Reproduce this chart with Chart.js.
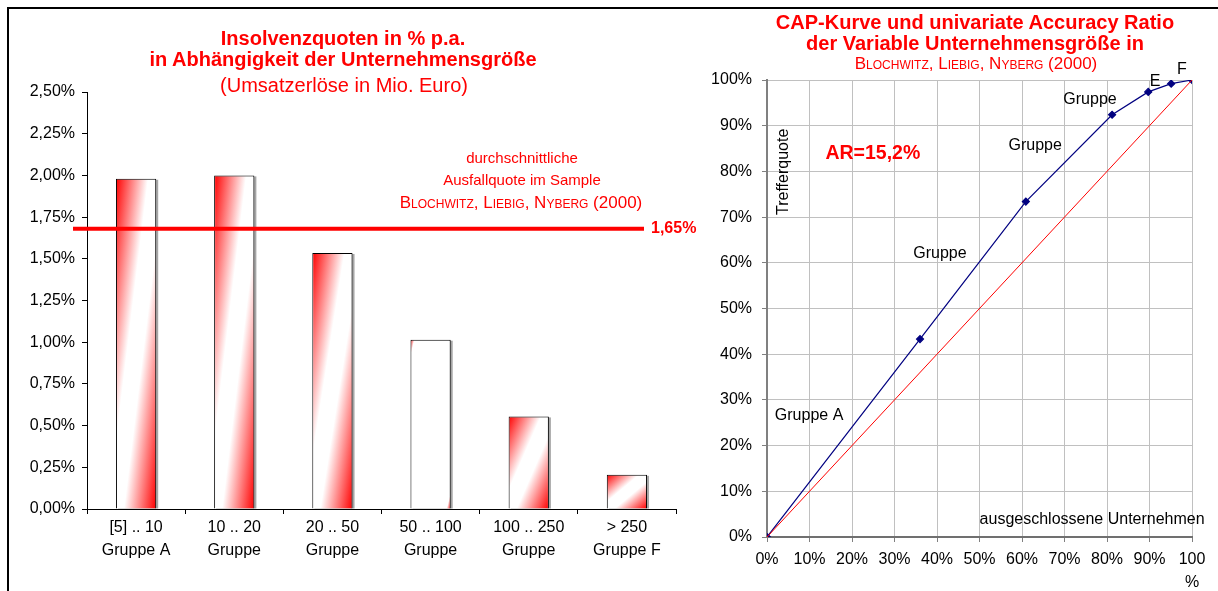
<!DOCTYPE html>
<html>
<head>
<meta charset="utf-8">
<script src="https://cdn.jsdelivr.net/npm/chart.js@4.4.0/dist/chart.umd.min.js"></script>
<style>
  body { margin: 0; width: 1218px; height: 591px; background: #fff; position: relative; overflow: hidden;
         font-family: "Liberation Sans", Arial, sans-serif; }
  #frame { position: absolute; left: 7px; top: 7px; width: 1230px; height: 600px;
           border-top: 2px solid #000; border-left: 2px solid #000; }
  .box { position: absolute; }
  .t { position: absolute; color: #ff0000; white-space: nowrap; transform: translateX(-50%); line-height: 22px; }
  .b { font-weight: bold; }
  .sc { font-variant: small-caps; }
</style>
</head>
<body>
<div id="frame"></div>

<div class="box" style="left:10px; top:10px; width:700px; height:581px;"><canvas id="rateChart"></canvas></div>
<div class="box" style="left:690px; top:10px; width:528px; height:581px;"><canvas id="capChart"></canvas></div>

<!-- titles and notes (real text) -->
<div class="t b" style="left:343px; top:27px; font-size:20px;">Insolvenzquoten in % p.a.</div>
<div class="t b" style="left:343px; top:48px; font-size:20px;">in Abhängigkeit der Unternehmensgröße</div>
<div class="t" style="left:344px; top:74px; font-size:20px;">(Umsatzerlöse in Mio. Euro)</div>

<div class="t" style="left:522px; top:147px; font-size:15px;">durchschnittliche</div>
<div class="t" style="left:522px; top:169px; font-size:15px;">Ausfallquote im Sample</div>
<div class="t sc" style="left:521px; top:192px; font-size:17px;">Blochwitz, Liebig, Nyberg (2000)</div>

<div class="t b" style="left:975px; top:11px; font-size:20px;">CAP-Kurve und univariate Accuracy Ratio</div>
<div class="t b" style="left:975px; top:32px; font-size:20px;">der Variable Unternehmensgröße in</div>
<div class="t sc" style="left:976px; top:53px; font-size:17px;">Blochwitz, Liebig, Nyberg (2000)</div>

<script>
const FONT = '"Liberation Sans", Arial, sans-serif';
Chart.defaults.font.family = FONT;
Chart.defaults.color = '#000';

/**
 * Left chart: default rate per size class
 */
const sizeClasses = ['[5] .. 10', '10 .. 20', '20 .. 50', '50 .. 100', '100 .. 250', '> 250'];
const groupNames = ['Gruppe A', 'Gruppe', 'Gruppe', 'Gruppe', 'Gruppe', 'Gruppe F'];
const defaultRates = [1.98, 2.00, 1.535, 1.015, 0.555, 0.205];
const avgRate = 1.68;
const avgRateLabel = '1,65%';

/**
 * Right chart: CAP curve (x = excluded firms, y = hit rate) and the random diagonal
 */
const capX = [0, 36.0, 60.9, 81.2, 89.7, 95.1, 100];
const capY = [0, 43.3, 73.4, 92.4, 97.4, 99.2, 100];
const diagX = [0, 100];
const diagY = [0, 100];

// how far the red part of each bar's fill reaches (style only)
const barFade = [0.4, 0.4, 0.4, 0.05, 0.4, 0.4];

const tickFont = { family: FONT, size: 16, lineHeight: 1.44 };

/**
 * Bars: grey drop shadow + diagonal red/white fade
 */
const barLook = {
    id: 'barLook',
    beforeDatasetsDraw(chart) {
        const ctx = chart.ctx;
        chart.getDatasetMeta(0).data.forEach((bar, i) => {
            const { x, y, base, width } = bar.getProps(['x', 'y', 'base', 'width'], true);
            const left = x - width / 2;
            const h = base - y;

            ctx.save();
            ctx.fillStyle = '#a6a6a6';
            ctx.fillRect(left + 2, y + 1, width, h - 1);
            ctx.restore();

            const k = 2 * width * h / (width * width + h * h);
            const g = ctx.createLinearGradient(left, y, left + h * k, y + width * k);
            const f = barFade[i];
            g.addColorStop(0, '#ff0000');
            g.addColorStop(f, '#ffffff');
            g.addColorStop(1 - f, '#ffffff');
            g.addColorStop(1, '#ff0000');
            bar.options.backgroundColor = g;
        });
    }
};

/**
 * Average default rate line with its label
 */
const avgLine = {
    id: 'avgLine',
    afterDatasetsDraw(chart) {
        const { ctx, chartArea } = chart;
        const y = chart.scales.y.getPixelForValue(avgRate);
        const x0 = chartArea.left - 14;
        const x1 = chartArea.right - 32;
        ctx.save();
        ctx.strokeStyle = '#ff0000';
        ctx.lineWidth = 4;
        ctx.beginPath();
        ctx.moveTo(x0, y);
        ctx.lineTo(x1, y);
        ctx.stroke();
        ctx.fillStyle = '#ff0000';
        ctx.font = 'bold 16px ' + FONT;
        ctx.textBaseline = 'middle';
        ctx.fillText(avgRateLabel, x1 + 7, y);
        ctx.restore();
    }
};

new Chart(document.getElementById('rateChart'), {
    type: 'bar',
    data: {
        labels: sizeClasses.map((s, i) => [s, groupNames[i]]),
        datasets: [{
            data: defaultRates,
            backgroundColor: () => '#ffffff',
            borderColor: '#000',
            borderWidth: 1,
            barPercentage: 0.41,
            categoryPercentage: 1
        }]
    },
    options: {
        responsive: true,
        maintainAspectRatio: false,
        animation: false,
        layout: { padding: { left: 0, right: 34, top: 82, bottom: 0 } },
        plugins: { legend: { display: false }, tooltip: { enabled: false } },
        scales: {
            x: {
                grid: { drawOnChartArea: false, tickLength: 5, color: '#000' },
                border: { color: '#000', width: 1 },
                ticks: { color: '#000', font: tickFont, padding: 2, maxRotation: 0, autoSkip: false },
                afterFit(scale) { scale.height = 82; }
            },
            y: {
                min: 0,
                max: 2.5,
                grid: { drawOnChartArea: false, tickLength: 5, color: '#000' },
                border: { color: '#000', width: 1 },
                ticks: {
                    stepSize: 0.25, color: '#000', font: tickFont, padding: 7,
                    callback: v => v.toFixed(2).replace('.', ',') + '%'
                },
                afterFit(scale) { scale.width = 77; }
            }
        }
    },
    plugins: [barLook, avgLine]
});

/**
 * Notes inside the CAP chart, anchored in data units
 */
const capNotes = [
    { text: 'F', x: 97.6, y: 102.2 },
    { text: 'E', x: 91.3, y: 99.6 },
    { text: 'Gruppe', x: 76.0, y: 95.8 },
    { text: 'Gruppe', x: 63.1, y: 85.6 },
    { text: 'Gruppe', x: 40.7, y: 62.1 },
    { text: 'Gruppe A', x: 9.9, y: 26.5 },
    { text: 'AR=15,2%', x: 24.9, y: 83.8, font: 'bold 19.5px ', color: '#ff0000' },
    { text: 'Trefferquote', x: 4.0, y: 79.9, rotate: true },
    { text: 'ausgeschlossene Unternehmen', x: 76.5, y: 3.9 }
];

const notesPlugin = {
    id: 'capNotes',
    afterDraw(chart) {
        const { ctx } = chart;
        const xs = chart.scales.x;
        const ys = chart.scales.y;
        capNotes.forEach(n => {
            ctx.save();
            ctx.translate(xs.getPixelForValue(n.x), ys.getPixelForValue(n.y));
            if (n.rotate) ctx.rotate(-Math.PI / 2);
            ctx.font = (n.font || '16px ') + FONT;
            ctx.fillStyle = n.color || '#000';
            ctx.textAlign = 'center';
            ctx.textBaseline = 'middle';
            ctx.fillText(n.text, 0, 0);
            ctx.restore();
        });
    }
};

const toPoints = (xs, ys) => xs.map((x, i) => ({ x, y: ys[i] }));

new Chart(document.getElementById('capChart'), {
    type: 'line',
    data: {
        datasets: [
            {
                data: toPoints(diagX, diagY),
                borderColor: '#ff0000',
                borderWidth: 1,
                pointRadius: 0,
                tension: 0
            },
            {
                data: toPoints(capX, capY),
                borderColor: '#000080',
                backgroundColor: '#000080',
                borderWidth: 1.2,
                pointStyle: 'rectRot',
                pointRadius: 3.5,
                tension: 0
            }
        ]
    },
    options: {
        responsive: true,
        maintainAspectRatio: false,
        animation: false,
        layout: { padding: { left: 0, right: 26, top: 70, bottom: 0 } },
        plugins: { legend: { display: false }, tooltip: { enabled: false } },
        scales: {
            x: {
                type: 'linear',
                min: 0,
                max: 100,
                grid: { color: '#c0c0c0', tickColor: '#808080', tickLength: 5 },
                border: { color: '#707070', width: 2 },
                ticks: {
                    stepSize: 10, color: '#000', font: tickFont, padding: 6, maxRotation: 0,
                    callback: v => v === 100 ? ['100', '%'] : v + '%'
                },
                afterFit(scale) { scale.height = 54; }
            },
            y: {
                min: 0,
                max: 100,
                grid: { color: '#c0c0c0', tickColor: '#808080', tickLength: 5 },
                border: { color: '#808080', width: 2 },
                ticks: { stepSize: 10, color: '#000', font: tickFont, padding: 10, callback: v => v + '%' },
                afterFit(scale) { scale.width = 77; }
            }
        }
    },
    plugins: [notesPlugin]
});
</script>
</body>
</html>
